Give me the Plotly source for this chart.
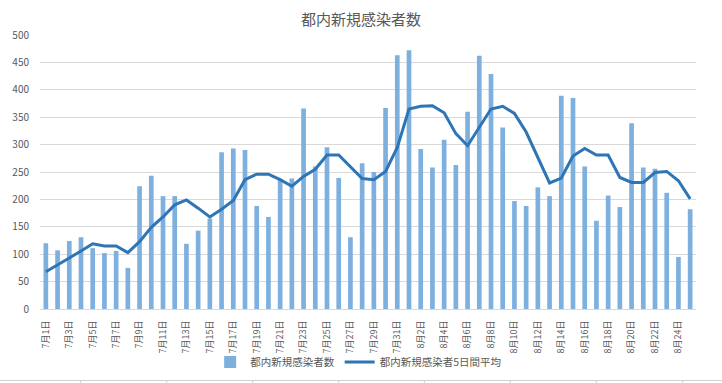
import plotly.graph_objects as go

# ---- data ----
dates = [f"7月{d}日" for d in range(1, 32)] + [f"8月{d}日" for d in range(1, 26)]
new_cases = [120, 107, 124, 131, 111, 102, 106, 75, 224, 243,
             206, 206, 119, 143, 165, 286, 293, 290, 188, 168,
             237, 238, 366, 260, 295, 239, 131, 266, 250, 367,
             463, 472, 292, 258, 309, 263, 360, 462, 429, 331,
             197, 188, 222, 206, 389, 385, 260, 161, 207, 186,
             339, 258, 256, 212, 95, 182]
avg5 = [68, 80, 93, 106, 119, 115, 115, 103, 123, 149,
        168, 190, 199, 184, 168, 182, 198, 236, 246, 246,
        236, 224, 242, 255, 281, 281, 259, 238, 236, 251,
        295, 365, 370, 371, 358, 320, 298, 331, 365, 370,
        357, 323, 276, 230, 239, 279, 293, 281, 281, 240,
        231, 231, 249, 251, 234, 201]
tick_labels = dates[::2]

title = "都内新規感染者数"
bar_name = "都内新規感染者数"
line_name = "都内新規感染者5日間平均"

FONT = "Noto Sans CJK JP, Noto Sans, sans-serif"
GRID = "#d9d9d9"
TXT = "#595959"

fig = go.Figure()
fig.add_trace(go.Bar(x=dates, y=new_cases, name=bar_name,
                     marker=dict(color="#7eb0df", line=dict(width=0))))
fig.add_trace(go.Scatter(x=dates, y=avg5, name=line_name, mode="lines",
                         line=dict(color="#2e75b6", width=3)))

W, H = 722, 383
L, R, T, B = 40, 26, 35, 74
pw, ph = W - L - R, H - T - B

def px_x(p):
    return (p - L) / pw

def px_y(p):
    return (H - B - p) / ph

shapes = [dict(type="line", xref="paper", yref="paper",
               x0=px_x(0), x1=px_x(W), y0=px_y(380.5), y1=px_y(380.5),
               line=dict(color="#d0d0d0", width=1))]
for vx in [80.7, 166.7, 252.7, 338.7, 424.3, 510.3, 596.3, 682.7]:
    shapes.append(dict(type="line", xref="paper", yref="paper",
                       x0=px_x(vx), x1=px_x(vx), y0=px_y(380.5), y1=px_y(384),
                       line=dict(color="#d0d0d0", width=1)))

fig.update_layout(
    width=W, height=H,
    margin=dict(l=L, r=R, t=T, b=B, autoexpand=False),
    paper_bgcolor="white", plot_bgcolor="white",
    font=dict(family=FONT, color=TXT, size=10),
    title=dict(text=title, x=0.5, xanchor="center", y=1 - 20 / H, yanchor="middle",
               font=dict(size=15, color=TXT, family=FONT)),
    bargap=0.6,
    showlegend=True,
    legend=dict(orientation="h", x=0.485, xanchor="center", y=px_y(362), yanchor="middle",
                font=dict(size=10.5, color=TXT, family=FONT), bgcolor="rgba(0,0,0,0)",
                itemwidth=30),
    xaxis=dict(type="category", categoryorder="array", categoryarray=dates,
               tickmode="array", tickvals=tick_labels, ticktext=tick_labels,
               tickangle=-90, tickfont=dict(size=9, color=TXT),
               showgrid=False, showline=True, linecolor=GRID, linewidth=1,
               ticks="", ticklabelstandoff=7, fixedrange=True),
    yaxis=dict(range=[0, 500], dtick=50, showgrid=True, gridcolor=GRID, gridwidth=1,
               zeroline=False, showline=False, ticks="", ticklabelstandoff=10,
               tickfont=dict(size=10, color=TXT)),
    shapes=shapes,
)

fig.write_html("out.html", config={"displayModeBar": False},
               post_script="document.body.style.margin='0';document.body.style.padding='0';")
